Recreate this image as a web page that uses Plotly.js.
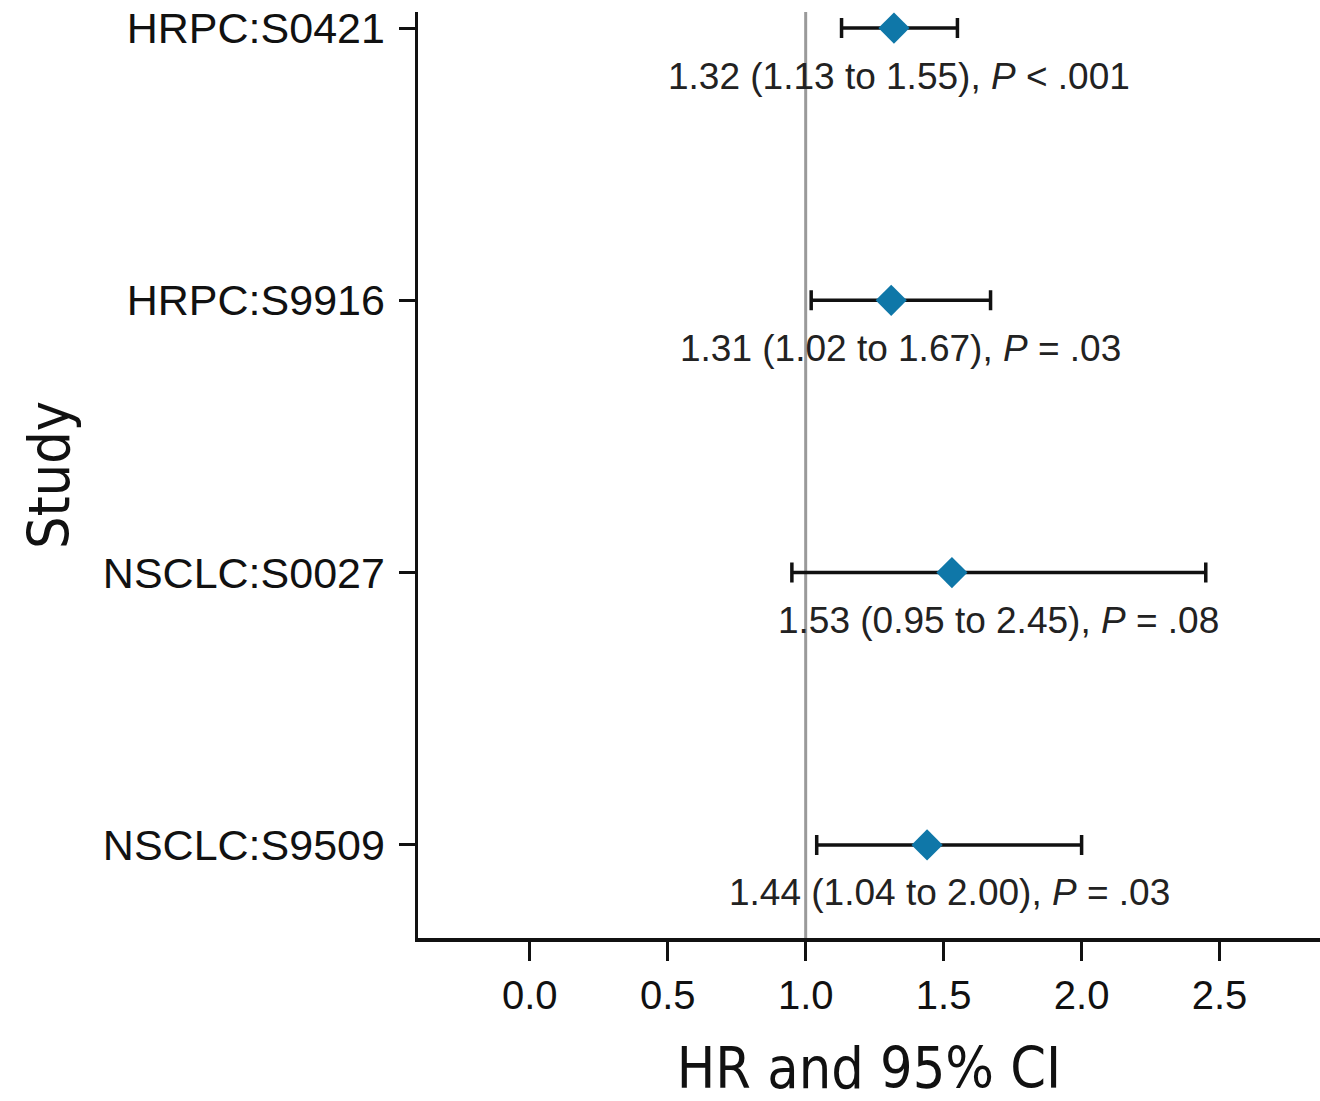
<!DOCTYPE html>
<html>
<head>
<meta charset="utf-8">
<script src="https://cdn.plot.ly/plotly-3.0.1.min.js"></script>
<style>html,body{margin:0;padding:0;background:#fff;}#chart{width:1320px;height:1101px;}</style>
</head>
<body>
<div id="chart"></div>
<script>
const studies = ["HRPC:S0421", "HRPC:S9916", "NSCLC:S0027", "NSCLC:S9509"];
const studyPos = [4, 3, 2, 1];
const hr = [1.32, 1.31, 1.53, 1.44];
const ciLow = [1.13, 1.02, 0.95, 1.04];
const ciHigh = [1.55, 1.67, 2.45, 2.00];
const pText = ["< .001", "= .03", "= .08", "= .03"];
const xTicks = [0, 0.5, 1.0, 1.5, 2.0, 2.5];

const fmt = v => v.toFixed(2);
const sansFont = '"Liberation Sans", Arial, sans-serif';
const condFont = '"DejaVu Sans Condensed", "DejaVu Sans", sans-serif';

const trace = {
  type: 'scatter',
  mode: 'markers',
  x: hr,
  y: studyPos,
  marker: {symbol: 'diamond', size: 24, color: '#0f77a8', line: {width: 0}},
  error_x: {
    type: 'data', symmetric: false,
    array: hr.map((v, i) => ciHigh[i] - v),
    arrayminus: hr.map((v, i) => v - ciLow[i]),
    color: '#111', thickness: 3.5, width: 10
  },
  hoverinfo: 'skip',
  showlegend: false
};

const annotations = studies.map((s, i) => ({
  x: (ciLow[i] + ciHigh[i]) / 2,
  y: studyPos[i],
  xref: 'x', yref: 'y',
  text: `${fmt(hr[i])} (${fmt(ciLow[i])} to ${fmt(ciHigh[i])}), <i>P</i> ${pText[i]}`,
  showarrow: false,
  yshift: -48,
  font: {family: sansFont, size: 37, color: '#222'}
}));

const layout = {
  width: 1320, height: 1101,
  margin: {l: 418, r: 0, t: 12, b: 163},
  paper_bgcolor: '#fff', plot_bgcolor: '#fff',
  xaxis: {
    range: [-0.405, 2.864],
    tickvals: xTicks,
    ticktext: xTicks.map(v => v.toFixed(1)),
    ticks: 'outside', ticklen: 19, tickwidth: 3, tickcolor: '#111',
    showline: true, linewidth: 3.5, linecolor: '#111',
    showgrid: false, zeroline: false,
    tickfont: {family: sansFont, size: 40, color: '#111'},
    title: {text: 'HR and 95% CI', standoff: 39,
      font: {family: condFont, size: 57, color: '#111'}}
  },
  yaxis: {
    range: [0.658, 4.059],
    tickvals: studyPos,
    ticktext: studies,
    ticks: 'outside', ticklen: 16, tickwidth: 3, tickcolor: '#111',
    ticklabelstandoff: 5,
    showline: true, linewidth: 3.5, linecolor: '#111',
    showgrid: false, zeroline: false,
    tickfont: {family: sansFont, size: 43, color: '#111'},
    title: {text: 'Study', standoff: 16,
      font: {family: condFont, size: 57, color: '#111'}}
  },
  shapes: [{
    type: 'line', xref: 'x', yref: 'paper',
    x0: 1, x1: 1, y0: 0, y1: 1,
    line: {color: '#9a9a9a', width: 3},
    layer: 'below'
  }],
  annotations: annotations
};

Plotly.newPlot('chart', [trace], layout, {displayModeBar: false, staticPlot: true});
</script>
</body>
</html>
